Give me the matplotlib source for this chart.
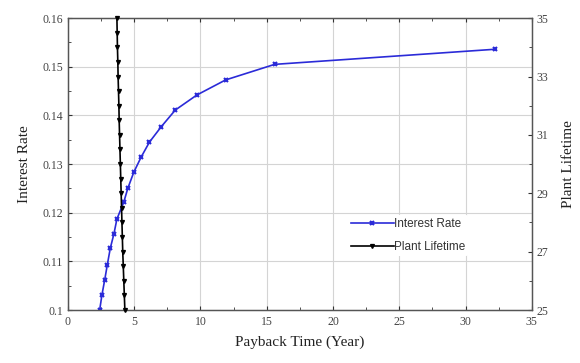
import matplotlib
matplotlib.use("Agg")
import matplotlib.pyplot as plt
from matplotlib.ticker import MultipleLocator

# interest rate sweep: payback time (years) vs rate
payback_rate = [2.40, 2.57, 2.78, 2.97, 3.20, 3.47, 3.70, 4.22, 4.52, 4.97,
                5.52, 6.15, 7.02, 8.10, 9.73, 11.90, 15.60, 32.20]
interest_rate = [0.1000, 0.1031, 0.1062, 0.1092, 0.1127, 0.1156, 0.1187, 0.1222,
                 0.1250, 0.1283, 0.1314, 0.1345, 0.1376, 0.1411, 0.1442, 0.1473,
                 0.1505, 0.1536]

# plant lifetime sweep: payback time (years) vs lifetime
payback_life = [4.30, 4.26, 4.22, 4.18, 4.14, 4.11, 4.08, 4.05, 4.02, 3.99, 3.96,
                3.93, 3.90, 3.87, 3.85, 3.82, 3.79, 3.77, 3.74, 3.72, 3.70]
plant_lifetime = [25, 25.5, 26, 26.5, 27, 27.5, 28, 28.5, 29, 29.5, 30,
                  30.5, 31, 31.5, 32, 32.5, 33, 33.5, 34, 34.5, 35]

x_ticks = [0, 5, 10, 15, 20, 25, 30, 35]
rate_ticks = [0.10, 0.11, 0.12, 0.13, 0.14, 0.15, 0.16]
rate_labels = ["0.1", "0.11", "0.12", "0.13", "0.14", "0.15", "0.16"]
life_ticks = [25, 27, 29, 31, 33, 35]

serif = "Liberation Serif"
sans = "Liberation Sans"

fig = plt.figure(figsize=(5.8, 3.63), dpi=100)
ax = fig.add_axes([0.117, 0.146, 0.8, 0.804])
ax2 = ax.twinx()

ax.set_xlim(0, 35)
ax.set_ylim(0.1, 0.16)
ax2.set_ylim(25, 35)

ax.grid(True, color="#d4d4d4", linewidth=0.8)
ax.set_axisbelow(True)

l1, = ax.plot(payback_rate, interest_rate, color="#2b2bd8", linewidth=1.2,
              marker="x", markersize=3.2, markeredgewidth=1.5, zorder=3)
l2, = ax2.plot(payback_life, plant_lifetime, color="black", linewidth=1.2,
               marker="v", markersize=2.8, zorder=3, clip_on=False)

ax.set_xticks(x_ticks)
ax.set_xticklabels([str(v) for v in x_ticks])
ax.xaxis.set_minor_locator(MultipleLocator(2.5))
ax.set_yticks(rate_ticks)
ax.set_yticklabels(rate_labels)
ax.yaxis.set_minor_locator(MultipleLocator(0.005))
ax2.set_yticks(life_ticks)
ax2.set_yticklabels([str(v) for v in life_ticks])
ax2.yaxis.set_minor_locator(MultipleLocator(1))

for a in (ax, ax2):
    a.tick_params(which="both", direction="in", colors="#333333", labelsize=8.5,
                  labelcolor="#444444")
    a.tick_params(which="major", length=3)
    a.tick_params(which="minor", length=2)
    for lab in a.get_xticklabels() + a.get_yticklabels():
        lab.set_family(serif)
    for s in a.spines.values():
        s.set_color("#555555")
        s.set_linewidth(0.9)
ax.tick_params(which="both", top=True)
ax.tick_params(axis="x", pad=4)

ax.set_xlabel("Payback Time (Year)", family=serif, fontsize=11, color="#222222",
              labelpad=6)
ax.set_ylabel("Interest Rate", family=serif, fontsize=11, color="#222222",
              labelpad=8)
ax2.set_ylabel("Plant Lifetime", family=serif, fontsize=11, color="#222222",
               labelpad=10)

leg = ax.legend([l1, l2], ["Interest Rate", "Plant Lifetime"], loc="center left",
                bbox_to_anchor=(0.59, 0.255), frameon=True, framealpha=1,
                edgecolor="none", facecolor="white", handlelength=3.6,
                handletextpad=0.0, labelspacing=0.9, borderpad=0.3,
                prop={"family": sans, "size": 8.5})
for t in leg.get_texts():
    t.set_color("#333333")

fig.savefig("out.png", dpi=100)
